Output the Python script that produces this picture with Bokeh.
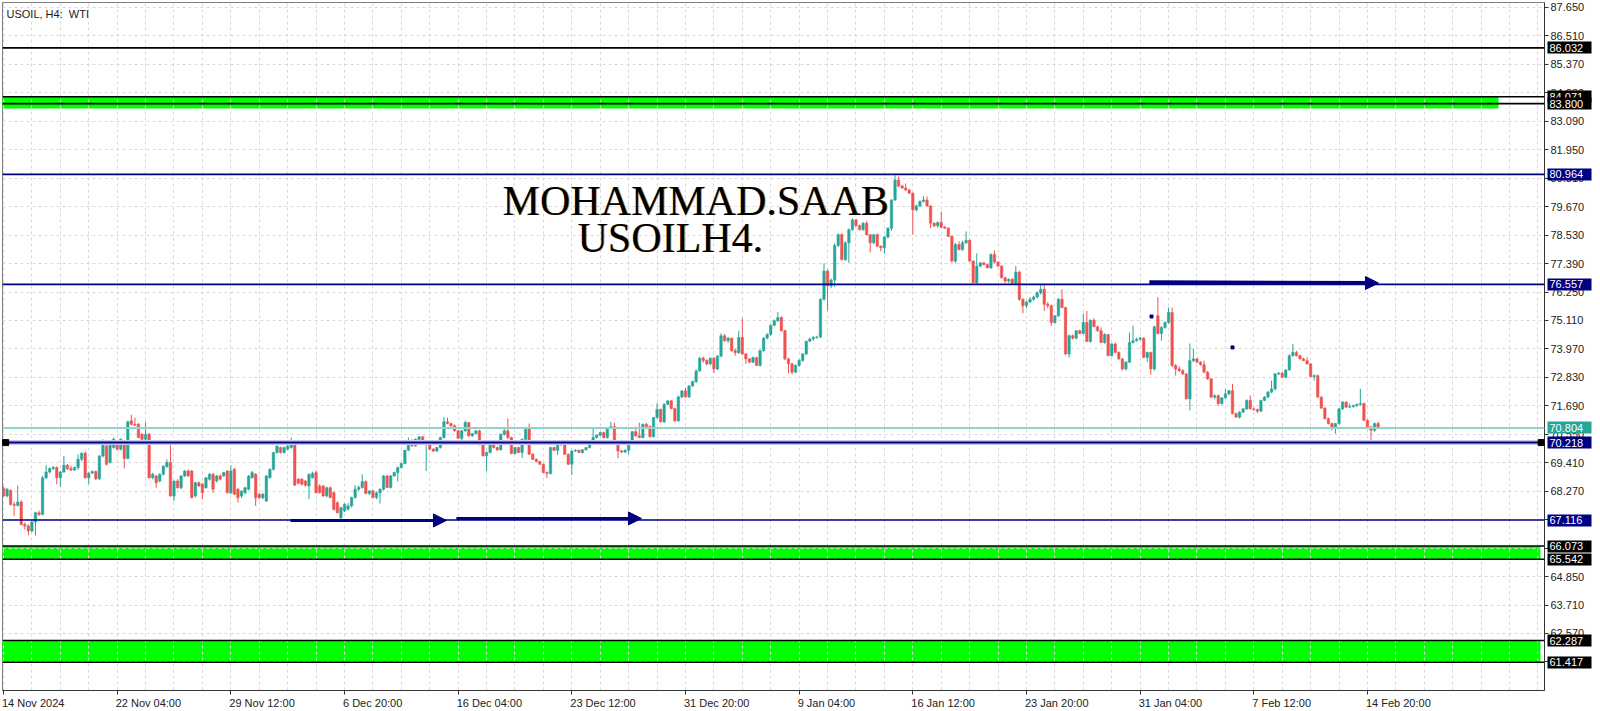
from bokeh.plotting import figure
from bokeh.models import (ColumnDataSource, FixedTicker, Label, Span, Arrow, NormalHead, Range1d,
                          NumeralTickFormatter, LinearAxis)
from bokeh.embed import file_html
from bokeh.resources import INLINE

# ---------------- data (USOIL H4, bar index 0 = 14 Nov 2024 20:00) ----------------
opens = [
 68.39, 68.08, 68.30, 67.74, 67.70, 67.84, 66.94, 66.88, 66.68, 67.04,
 67.41, 67.34, 68.81, 69.04, 69.18, 69.22, 68.81, 69.04, 69.31, 69.18,
 69.12, 69.22, 69.55, 69.79, 68.81, 69.00, 69.06, 68.77, 69.68, 70.08,
 69.42, 70.02, 70.29, 69.95, 70.22, 69.58, 71.09, 70.95, 70.95, 70.55,
 70.35, 70.55, 68.81, 68.88, 68.68, 68.95, 69.26, 69.42, 68.08, 68.68,
 68.41, 68.88, 69.08, 69.08, 68.08, 68.61, 68.55, 68.41, 68.75, 68.95,
 68.68, 68.88, 68.88, 69.08, 68.21, 69.15, 68.35, 68.08, 68.21, 68.35,
 68.81, 68.95, 68.15, 68.01, 67.88, 68.81, 69.15, 69.82, 70.02, 69.82,
 69.95, 70.02, 70.22, 68.75, 68.75, 68.68, 68.48, 68.81, 69.02, 68.48,
 68.48, 68.08, 68.41, 68.21, 67.81, 67.21, 67.48, 67.55, 67.68, 68.02,
 68.35, 68.42, 68.66, 68.18, 68.28, 68.02, 68.20, 68.35, 68.88, 68.42,
 68.88, 69.02, 69.22, 69.38, 69.91, 70.31, 70.09, 70.35, 70.45, 70.15,
 70.22, 69.95, 69.88, 70.02, 70.42, 71.05, 70.98, 70.89, 70.69, 70.39,
 70.69, 71.02, 70.49, 70.58, 70.69, 70.13, 69.69, 69.82, 70.15, 70.02,
 69.93, 70.55, 70.69, 70.42, 69.78, 70.02, 69.82, 70.35, 70.82, 69.75,
 69.55, 69.46, 69.35, 69.02, 68.98, 70.02, 69.91, 70.22, 70.15, 69.75,
 69.35, 69.88, 69.91, 69.82, 69.93, 70.02, 70.29, 70.42, 70.51, 70.62,
 70.42, 70.79, 70.86, 70.15, 69.88, 69.84, 69.91, 70.18, 70.66, 70.49,
 70.42, 70.95, 70.86, 70.45, 71.22, 71.55, 71.05, 71.75, 71.89, 71.58,
 71.09, 72.05, 72.29, 72.05, 72.49, 72.66, 73.09, 73.60, 73.51, 73.37,
 73.60, 73.17, 73.68, 74.50, 74.30, 74.40, 73.90, 73.82, 74.43, 73.77,
 73.57, 73.44, 73.62, 73.31, 73.90, 74.40, 74.55, 74.92, 75.10, 75.23,
 74.70, 73.57, 73.37, 73.04, 73.31, 73.51, 73.77, 74.28, 74.37, 74.43,
 74.45, 75.96, 77.09, 76.50, 76.73, 78.11, 78.55, 77.55, 78.22, 78.75,
 79.14, 78.91, 78.75, 79.01, 78.55, 78.22, 78.55, 78.08, 78.02, 78.45,
 78.81, 79.94, 80.74, 80.50, 80.42, 80.34, 80.21, 79.54, 79.70, 79.88,
 79.94, 79.70, 79.01, 78.91, 79.04, 78.85, 78.81, 78.48, 77.49, 78.15,
 77.95, 78.22, 78.32, 77.49, 76.62, 77.29, 77.42, 77.35, 77.22, 77.75,
 77.45, 77.29, 76.82, 76.69, 76.76, 76.60, 77.05, 75.96, 75.70, 75.85,
 75.96, 76.05, 76.22, 76.36, 75.76, 75.70, 75.03, 75.30, 75.96, 75.63,
 73.77, 74.50, 74.40, 74.70, 74.59, 75.03, 74.27, 75.12, 74.86, 74.70,
 74.23, 74.55, 73.70, 74.17, 73.83, 73.57, 73.17, 73.44, 74.23, 74.30,
 74.36, 74.40, 73.63, 73.83, 73.17, 75.30, 74.59, 74.83, 75.03, 75.43,
 73.30, 73.17, 73.10, 72.97, 71.97, 73.50, 73.57, 73.44, 73.34, 73.04,
 72.77, 72.04, 72.10, 71.78, 72.01, 72.17, 72.30, 71.38, 71.24, 71.44,
 71.57, 71.91, 71.57, 71.54, 71.48, 71.91, 72.04, 72.24, 72.37, 72.97,
 73.00, 72.84, 73.13, 73.70, 73.83, 73.70, 73.57, 73.50, 73.37, 72.86,
 72.90, 72.04, 71.60, 71.18, 70.98, 70.78, 70.98, 71.57, 71.84, 71.64,
 71.66, 71.70, 71.75, 71.78, 71.11, 70.84, 70.71, 70.98]

highs = [
 68.45, 68.40, 68.35, 67.84, 68.50, 67.90, 67.02, 66.94, 67.08, 67.45,
 67.50, 68.88, 69.31, 69.22, 69.28, 69.26, 69.08, 69.68, 69.36, 69.28,
 69.26, 69.75, 69.82, 69.86, 69.02, 69.10, 69.10, 69.72, 70.35, 70.26,
 70.28, 70.42, 70.32, 70.38, 70.30, 71.10, 71.33, 71.22, 71.00, 70.60,
 71.05, 70.60, 69.00, 68.92, 68.98, 69.30, 69.55, 70.15, 68.70, 68.75,
 68.92, 69.12, 69.15, 69.12, 68.65, 68.66, 68.60, 68.84, 69.00, 69.00,
 68.92, 68.95, 69.05, 69.12, 69.31, 69.20, 68.40, 68.30, 68.45, 68.92,
 69.08, 69.00, 68.20, 68.20, 68.92, 69.18, 69.85, 70.10, 70.06, 70.06,
 70.12, 70.42, 70.30, 68.80, 68.80, 68.72, 68.98, 69.05, 69.10, 68.55,
 68.52, 68.45, 68.46, 68.26, 67.86, 67.65, 67.78, 67.80, 68.05, 68.52,
 68.50, 68.95, 68.70, 68.32, 68.34, 68.25, 68.38, 68.92, 68.92, 68.92,
 69.05, 69.25, 69.42, 69.92, 70.42, 70.34, 70.38, 70.49, 70.49, 70.26,
 70.26, 70.00, 70.04, 70.45, 71.25, 71.22, 71.02, 70.95, 70.72, 70.72,
 71.10, 71.05, 70.60, 70.72, 70.73, 70.16, 69.86, 70.18, 70.18, 70.06,
 70.58, 70.82, 71.18, 70.45, 70.05, 70.06, 70.38, 70.85, 70.98, 69.80,
 69.58, 69.49, 69.38, 69.06, 70.05, 70.06, 70.25, 70.26, 70.18, 69.78,
 69.90, 69.95, 69.94, 69.96, 70.05, 70.32, 70.78, 70.55, 70.65, 70.66,
 70.84, 71.05, 71.02, 70.18, 69.92, 69.95, 70.20, 70.68, 70.85, 71.02,
 70.98, 71.00, 70.90, 71.25, 71.80, 71.58, 71.80, 71.92, 71.92, 71.62,
 72.10, 72.32, 72.40, 72.52, 72.70, 73.15, 73.65, 73.66, 73.56, 73.62,
 73.64, 73.72, 74.60, 74.58, 74.45, 74.42, 73.98, 74.70, 75.20, 73.80,
 73.60, 73.66, 73.66, 73.95, 74.45, 74.60, 74.95, 75.15, 75.45, 75.28,
 74.74, 73.62, 73.42, 73.35, 73.56, 73.80, 74.30, 74.42, 74.48, 74.50,
 76.00, 77.40, 77.15, 76.80, 78.20, 78.60, 78.61, 78.28, 78.80, 79.21,
 79.18, 78.95, 79.05, 79.10, 78.58, 78.58, 78.60, 78.12, 78.50, 78.85,
 79.96, 80.92, 80.88, 80.55, 80.60, 80.38, 80.24, 79.75, 79.92, 80.10,
 80.08, 79.74, 79.04, 79.08, 79.47, 78.90, 78.84, 78.52, 78.22, 78.28,
 78.30, 78.68, 78.36, 77.52, 77.80, 77.45, 77.45, 77.38, 77.80, 77.92,
 77.48, 77.32, 76.86, 76.80, 76.80, 77.29, 77.10, 76.00, 75.90, 76.05,
 76.10, 76.28, 76.53, 76.56, 75.85, 75.75, 75.32, 76.00, 76.36, 75.66,
 74.55, 74.55, 74.72, 74.74, 75.39, 75.49, 75.15, 75.20, 74.90, 74.83,
 74.60, 74.58, 74.20, 74.22, 73.87, 73.60, 73.48, 74.63, 74.90, 74.42,
 74.45, 74.44, 73.86, 73.86, 74.90, 76.05, 74.88, 75.08, 75.63, 75.63,
 73.37, 73.28, 73.15, 73.00, 74.19, 73.97, 73.62, 73.48, 73.50, 73.08,
 72.80, 72.15, 72.14, 72.04, 72.37, 72.32, 72.57, 71.42, 71.48, 71.60,
 71.95, 72.11, 71.62, 71.58, 71.92, 72.08, 72.28, 72.70, 73.00, 73.05,
 73.04, 73.15, 73.75, 74.17, 73.90, 73.74, 73.62, 73.63, 73.40, 72.95,
 72.94, 72.08, 71.64, 71.22, 71.02, 71.00, 71.60, 71.88, 71.88, 71.78,
 71.74, 71.78, 72.37, 71.82, 71.15, 70.90, 71.02, 71.05]

lows = [
 68.05, 68.02, 67.70, 67.28, 67.66, 66.90, 66.74, 66.50, 66.62, 66.50,
 67.28, 67.30, 68.75, 68.98, 69.12, 68.55, 68.45, 69.00, 69.12, 69.08,
 69.08, 69.12, 69.48, 68.78, 68.55, 68.96, 68.72, 68.72, 69.62, 69.30,
 69.38, 69.98, 69.90, 69.90, 69.18, 69.55, 70.90, 70.88, 70.40, 70.30,
 70.30, 68.78, 68.75, 68.41, 68.62, 68.90, 69.20, 68.05, 67.88, 68.38,
 68.35, 68.84, 68.85, 67.98, 68.02, 68.45, 67.95, 68.38, 68.70, 68.20,
 68.62, 68.70, 68.85, 68.18, 68.15, 68.12, 67.81, 68.00, 68.15, 68.30,
 68.78, 67.68, 67.95, 67.95, 67.84, 68.78, 69.10, 69.78, 69.78, 69.78,
 69.90, 69.98, 68.48, 68.55, 68.50, 68.45, 67.95, 68.78, 68.18, 68.18,
 68.05, 68.02, 68.00, 67.50, 67.38, 67.15, 67.44, 67.50, 67.62, 67.98,
 68.28, 68.38, 68.15, 68.12, 67.98, 67.95, 67.77, 68.30, 68.40, 68.38,
 68.85, 68.66, 69.18, 69.35, 69.88, 70.05, 70.05, 70.30, 70.12, 69.08,
 69.92, 69.84, 69.84, 69.98, 70.38, 70.95, 70.86, 70.66, 70.36, 70.22,
 70.65, 70.46, 70.45, 70.54, 70.11, 69.66, 69.08, 69.78, 69.98, 69.88,
 69.90, 70.50, 70.36, 69.75, 69.74, 69.80, 69.60, 70.30, 69.72, 69.52,
 69.43, 69.33, 68.99, 68.79, 68.94, 69.88, 69.72, 70.08, 69.72, 69.32,
 68.92, 69.84, 69.80, 69.78, 69.90, 69.98, 70.25, 70.38, 70.48, 70.39,
 70.38, 70.76, 70.13, 69.59, 69.80, 69.80, 69.75, 70.14, 70.46, 70.39,
 70.38, 70.82, 70.43, 70.42, 71.18, 71.02, 71.00, 71.72, 71.55, 71.05,
 71.05, 72.00, 72.02, 72.00, 72.45, 72.60, 73.05, 73.42, 73.30, 73.32,
 73.00, 73.12, 73.64, 74.25, 74.20, 73.86, 73.70, 73.78, 73.72, 73.37,
 73.40, 73.40, 73.28, 73.26, 73.86, 74.36, 74.50, 74.88, 75.05, 74.67,
 73.52, 73.00, 72.95, 73.00, 73.26, 73.46, 73.72, 74.25, 74.30, 74.38,
 74.40, 75.90, 75.50, 76.40, 76.45, 78.05, 77.52, 77.50, 77.42, 78.70,
 78.88, 78.72, 78.70, 78.52, 77.84, 78.18, 78.05, 77.88, 77.79, 78.40,
 78.70, 79.90, 80.45, 80.38, 80.30, 80.18, 78.55, 79.48, 79.65, 79.84,
 79.68, 78.81, 78.85, 78.82, 78.80, 78.78, 78.45, 77.44, 77.40, 77.92,
 77.90, 78.18, 77.47, 76.60, 76.58, 77.25, 77.32, 77.20, 77.18, 77.40,
 77.25, 76.80, 76.60, 76.62, 76.58, 76.56, 75.90, 75.40, 75.60, 75.80,
 75.90, 76.00, 76.15, 75.49, 75.60, 74.90, 74.98, 75.25, 75.60, 73.72,
 73.63, 74.35, 74.36, 74.56, 74.55, 74.25, 74.22, 74.84, 74.66, 74.20,
 74.18, 73.68, 73.66, 73.80, 73.54, 73.10, 73.10, 73.40, 74.18, 74.26,
 74.30, 73.60, 73.44, 72.94, 73.10, 74.55, 74.30, 74.78, 74.98, 73.25,
 72.90, 73.05, 72.94, 71.95, 71.51, 73.44, 73.40, 73.30, 73.00, 72.74,
 72.00, 71.95, 71.70, 71.74, 71.98, 72.12, 71.35, 71.20, 71.18, 71.40,
 71.52, 71.55, 71.50, 71.40, 71.44, 71.88, 72.00, 72.20, 72.30, 72.92,
 72.80, 72.80, 73.10, 73.66, 73.66, 73.55, 73.48, 73.34, 72.84, 72.70,
 72.02, 71.57, 71.15, 70.95, 70.71, 70.58, 70.94, 71.52, 71.60, 71.60,
 71.62, 71.65, 71.70, 71.08, 70.82, 70.31, 70.65, 70.78]

closes = [
 68.08, 68.35, 67.74, 67.70, 67.84, 66.94, 66.88, 66.68, 67.04, 67.41,
 67.34, 68.81, 69.04, 69.18, 69.22, 68.81, 69.04, 69.31, 69.18, 69.12,
 69.22, 69.55, 69.79, 68.81, 69.00, 69.06, 68.77, 69.68, 70.22, 69.35,
 70.22, 70.35, 69.95, 70.35, 69.58, 71.05, 70.95, 70.91, 70.42, 70.35,
 70.55, 68.81, 68.95, 68.61, 68.95, 69.28, 69.42, 68.08, 68.68, 68.41,
 68.88, 69.08, 68.88, 68.01, 68.61, 68.48, 68.21, 68.81, 68.95, 68.35,
 68.88, 68.75, 69.02, 68.21, 69.08, 68.15, 68.01, 68.28, 68.41, 68.88,
 69.02, 68.01, 68.01, 68.15, 68.88, 69.15, 69.82, 70.08, 69.82, 70.02,
 70.08, 70.22, 68.51, 68.59, 68.55, 68.51, 68.95, 68.99, 68.21, 68.21,
 68.08, 68.41, 68.01, 67.54, 67.41, 67.61, 67.75, 67.68, 68.02, 68.35,
 68.42, 68.66, 68.18, 68.28, 68.02, 68.20, 68.35, 68.88, 68.42, 68.88,
 69.02, 69.22, 69.38, 69.91, 70.22, 70.09, 70.35, 70.45, 70.15, 70.22,
 69.95, 69.88, 70.02, 70.42, 71.05, 70.98, 70.89, 70.69, 70.39, 70.69,
 71.02, 70.49, 70.58, 70.69, 70.13, 69.69, 69.82, 70.15, 70.02, 69.93,
 70.55, 70.69, 70.42, 69.78, 70.02, 69.82, 70.35, 70.82, 69.75, 69.55,
 69.46, 69.35, 69.02, 68.98, 70.02, 69.91, 70.22, 70.15, 69.75, 69.35,
 69.88, 69.91, 69.82, 69.93, 70.02, 70.29, 70.42, 70.51, 70.62, 70.42,
 70.79, 70.86, 70.15, 69.88, 69.84, 69.91, 70.18, 70.66, 70.49, 70.42,
 70.95, 70.86, 70.45, 71.22, 71.55, 71.05, 71.75, 71.89, 71.58, 71.09,
 72.05, 72.29, 72.05, 72.49, 72.66, 73.09, 73.60, 73.51, 73.37, 73.60,
 73.17, 73.68, 74.50, 74.30, 74.40, 73.90, 73.82, 74.43, 73.77, 73.57,
 73.44, 73.62, 73.31, 73.90, 74.40, 74.55, 74.92, 75.10, 75.23, 74.70,
 73.57, 73.37, 73.04, 73.31, 73.51, 73.77, 74.28, 74.37, 74.43, 74.45,
 75.96, 77.09, 76.50, 76.73, 78.11, 78.55, 77.55, 78.22, 78.75, 79.14,
 78.91, 78.75, 79.01, 78.55, 78.22, 78.55, 78.08, 78.02, 78.45, 78.81,
 79.94, 80.74, 80.50, 80.42, 80.34, 80.21, 79.54, 79.70, 79.88, 79.94,
 79.70, 79.01, 78.91, 79.04, 78.85, 78.81, 78.48, 77.49, 78.15, 77.95,
 78.22, 78.32, 77.49, 76.62, 77.29, 77.42, 77.35, 77.22, 77.75, 77.45,
 77.29, 76.82, 76.69, 76.76, 76.60, 77.05, 75.96, 75.70, 75.85, 75.96,
 76.05, 76.22, 76.36, 75.76, 75.70, 75.03, 75.30, 75.96, 75.63, 73.77,
 74.50, 74.40, 74.70, 74.59, 75.03, 74.27, 75.12, 74.86, 74.70, 74.23,
 74.55, 73.70, 74.17, 73.83, 73.57, 73.17, 73.44, 74.23, 74.30, 74.36,
 74.40, 73.63, 73.83, 73.17, 74.86, 74.59, 74.83, 75.03, 75.43, 73.30,
 73.17, 73.10, 72.97, 71.97, 73.50, 73.57, 73.44, 73.34, 73.04, 72.77,
 72.04, 72.10, 71.78, 72.01, 72.17, 72.30, 71.38, 71.24, 71.44, 71.57,
 71.91, 71.57, 71.54, 71.48, 71.91, 72.04, 72.24, 72.37, 72.97, 73.00,
 72.84, 73.13, 73.70, 73.83, 73.70, 73.57, 73.50, 73.37, 72.86, 72.90,
 72.04, 71.60, 71.18, 70.98, 70.78, 70.98, 71.57, 71.84, 71.64, 71.66,
 71.70, 71.75, 71.78, 71.11, 70.84, 70.71, 70.98, 70.80]

# time axis labels (every 32 H4 bars)
tick_bars = [0, 32, 64, 96, 128, 160, 192, 224, 256, 288, 320, 352, 384]
tick_labels = ["14 Nov 2024", "22 Nov 04:00", "29 Nov 12:00", "6 Dec 20:00", "16 Dec 04:00",
               "23 Dec 12:00", "31 Dec 20:00", "9 Jan 04:00", "16 Jan 12:00", "23 Jan 20:00",
               "31 Jan 04:00", "7 Feb 12:00", "14 Feb 20:00"]
grid_bars = list(range(0, 440, 8))
price_ticks = [61.430, 62.570, 63.710, 64.850, 65.990, 67.130, 68.270, 69.410, 70.550, 71.690,
               72.830, 73.970, 75.110, 76.250, 77.390, 78.530, 79.670, 80.810, 81.950, 83.090,
               84.230, 85.370, 86.510, 87.650]

# drawn levels / objects
black_levels = [86.032, 84.071, 83.800, 66.073, 65.542, 62.287, 61.417]
navy_levels = [80.964, 76.557, 67.116]
selected_level = 70.218
current_price = 70.804
band_top = [84.071, 66.073, 62.287]
band_bottom = [83.600, 65.542, 61.417]
band_left = [-10, -10, -10]
band_right = [420.9, 432.7, 432.7]
tags_black_a = [86.032, 84.071, 66.073, 62.287]
tags_black_b = [83.800, 65.542, 61.417]
tags_navy = [80.964, 76.557, 70.218, 67.116]
tags_teal = [70.804]
arrow_x0 = [80.8, 127.5, 322.6]
arrow_x1 = [124.7, 179.6, 387.1]
arrow_y0 = [67.10, 67.18, 76.64]
arrow_y1 = [67.10, 67.18, 76.61]
arrow_w = [3, 3, 4]
dot_x = [323.2, 346.0]
dot_y = [75.27, 74.03]
handle_x = [0.6, 432.9]
handle_y = [70.218, 70.218]
wm_line1 = ("MOHAMMAD.SAAB", 140.5, 79.24)
wm_line2 = ("USOILH4.", 161.6, 77.79)

# ---------------- styling ----------------
GREEN = "#26a69a"
RED = "#ef5350"
NAVY = "#000080"
TEAL_TAG = "#26a69a"
FRAME_W = 1542
FRAME_H = 688
PX_PER_BAR = 3.552
X0 = -0.28
X1 = X0 + FRAME_W / PX_PER_BAR
Y0, Y1 = 60.286, 87.85
FONT = "Liberation Sans"
FS = 11

n = min(len(opens), len(highs), len(lows), len(closes))
xs = list(range(n))
cols = [GREEN if closes[i] >= opens[i] else RED for i in range(n)]
src = ColumnDataSource(dict(
    x=xs, h=highs[:n], l=lows[:n],
    top=[max(opens[i], closes[i]) for i in range(n)],
    bot=[min(opens[i], closes[i]) for i in range(n)],
    col=cols))

p = figure(frame_width=FRAME_W, frame_height=FRAME_H, output_backend="svg", toolbar_location=None,
           x_range=Range1d(X0, X1), y_range=Range1d(Y0, Y1),
           y_axis_location="right", min_border_left=2, min_border_top=2,
           min_border_right=54, min_border_bottom=19)
p.background_fill_color = "white"
p.border_fill_color = "white"
p.outline_line_color = "#7f7f7f"

# grids
p.xgrid.ticker = FixedTicker(ticks=grid_bars)
for g in (p.xgrid, p.ygrid):
    g.grid_line_color = "#d9d9d9"
    g.grid_line_dash = "3 3"
    g.grid_line_width = 1


def style_axis(ax):
    ax.major_label_text_font = FONT
    ax.major_label_text_font_size = f"{FS}px"
    ax.major_label_text_color = "#222222"
    ax.axis_line_color = "#333333"
    ax.major_tick_line_color = "#333333"
    ax.major_tick_in = 0
    ax.major_tick_out = 4
    ax.minor_tick_line_color = None
    ax.major_label_standoff = 2


# price axis
p.yaxis.ticker = FixedTicker(ticks=price_ticks)
p.yaxis.formatter = NumeralTickFormatter(format="0.000")
style_axis(p.yaxis[0])

# time axis: tick marks at the bars; the labels (left-aligned at the tick, as in MT)
# are carried by a second axis stacked right under it
p.xaxis.ticker = FixedTicker(ticks=tick_bars)
p.xaxis.major_label_overrides = {b: "" for b in tick_bars}
style_axis(p.xaxis[0])

CW = {c: 0.556 for c in "0123456789"}
CW.update({" ": 0.278, ":": 0.278, "N": 0.722, "o": 0.556, "v": 0.5, "D": 0.722, "e": 0.556,
           "c": 0.5, "J": 0.5, "a": 0.556, "n": 0.556, "F": 0.611, "b": 0.556})
label_pos = [round(b + (sum(CW.get(ch, 0.556) for ch in t) * FS / 2 - 1.5) / PX_PER_BAR, 3)
             for b, t in zip(tick_bars, tick_labels)]
lab_axis = LinearAxis(ticker=FixedTicker(ticks=label_pos),
                      major_label_overrides={v: t for v, t in zip(label_pos, tick_labels)})
style_axis(lab_axis)
lab_axis.axis_line_color = None
lab_axis.major_tick_line_color = None
lab_axis.major_tick_out = 0
lab_axis.major_label_standoff = 2
p.add_layout(lab_axis, "below")

# green zones (below grid)
p.quad(left=band_left, right=band_right, top=band_top, bottom=band_bottom,
       fill_color="#00ff00", line_color=None, level="image")

# candles
p.segment(x0="x", y0="h", x1="x", y1="l", line_color="col", line_width=1, source=src)
p.vbar(x="x", width=0.7, top="top", bottom="bot", fill_color="col", line_color="col",
       line_width=0.5, source=src)

# horizontal levels
for v in black_levels:
    p.add_layout(Span(location=v, dimension="width", line_color="black", line_width=1.6))
for v in navy_levels:
    p.add_layout(Span(location=v, dimension="width", line_color=NAVY, line_width=1.6))
p.add_layout(Span(location=current_price, dimension="width", line_color="#8fd3cb", line_width=2))
p.add_layout(Span(location=selected_level, dimension="width", line_color="#c6c6f0", line_width=5))
p.add_layout(Span(location=selected_level, dimension="width", line_color=NAVY, line_width=2))
p.scatter(handle_x, handle_y, marker="square", size=6, color="black", level="overlay")

# arrows and dots
for x0, x1, y0, y1, w in zip(arrow_x0, arrow_x1, arrow_y0, arrow_y1, arrow_w):
    p.add_layout(Arrow(end=NormalHead(size=13, fill_color=NAVY, line_color=NAVY, line_width=1),
                       x_start=x0, y_start=y0, x_end=x1, y_end=y1,
                       line_color=NAVY, line_width=w))
p.scatter(dot_x, dot_y, marker="square", size=3, color=NAVY)

# watermark text
for txt, bx, by in (wm_line1, wm_line2):
    p.add_layout(Label(x=bx, y=by, text=txt, text_font="Liberation Serif", text_font_size="42px",
                       text_color="#c8862f", text_alpha=0.7, text_baseline="alphabetic",
                       text_align="left", x_offset=1.0, y_offset=16))
    p.add_layout(Label(x=bx, y=by, text=txt, text_font="Liberation Serif", text_font_size="42px",
                       text_color="black", text_baseline="alphabetic", text_align="left",
                       y_offset=16))

# chart caption
p.add_layout(Label(x=4, y=Y1, x_units="screen", y_units="data", y_offset=-5,
                   text="USOIL, H4:\u00a0 WTI", text_font=FONT, text_font_size=f"{FS}px",
                   text_color="#1a1a1a", text_baseline="top", text_align="left"))


# price tags on the price scale: extra right axes stacked after the price axis whose
# thick ticks (reaching back over the price scale) form the boxes and whose labels are
# pulled back over them with a negative standoff
def tag_axis(values, color):
    ax = LinearAxis(ticker=FixedTicker(ticks=values), formatter=NumeralTickFormatter(format="0.000"))
    ax.axis_line_color = None
    ax.minor_tick_line_color = None
    ax.major_tick_line_color = color
    ax.major_tick_line_width = 12
    ax.major_tick_in = 40
    ax.major_tick_out = 4
    ax.major_label_standoff = -42
    ax.major_label_text_color = "white"
    ax.major_label_text_font = FONT
    ax.major_label_text_font_size = f"{FS}px"
    p.add_layout(ax, "right")


tag_axis(tags_black_a, "black")
tag_axis(tags_black_b, "black")
tag_axis(tags_navy, NAVY)
tag_axis(tags_teal, TEAL_TAG)

open("out.html", "w").write(file_html(p, INLINE))
